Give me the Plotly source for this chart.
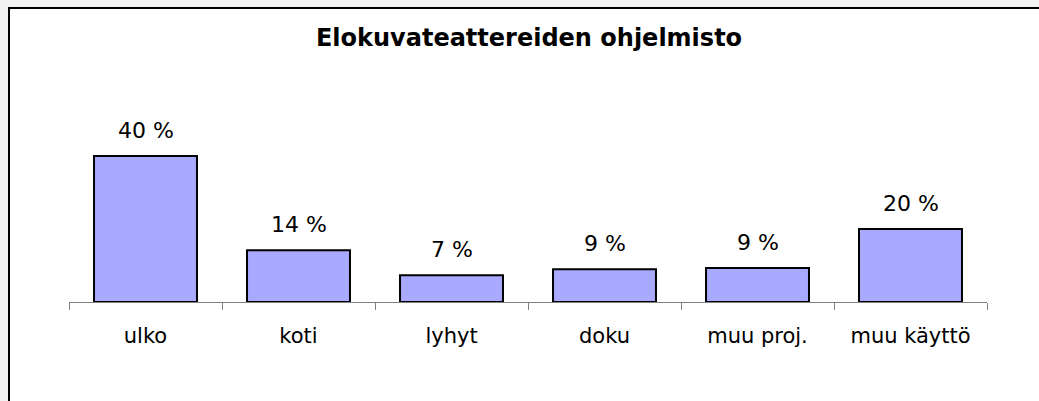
import plotly.graph_objects as go

categories = ["ulko", "koti", "lyhyt", "doku", "muu proj.", "muu käyttö"]
values = [40.0, 14.2, 7.3, 9.0, 9.3, 20.0]
value_labels = ["40 %", "14 %", "7 %", "9 %", "9 %", "20 %"]
title_text = "Elokuvateattereiden ohjelmisto"

W, H = 1039, 401
L, R, T, B = 69, 52, 119, 99
pw, ph = W - L - R, H - T - B
ymax = 50.14

def px_x(p):
    return (p - L) / pw

def px_y(p):
    return (H - B - p) / ph

fig = go.Figure()
fig.add_trace(go.Bar(
    x=categories, y=values,
    marker=dict(color="#a9a9ff", line=dict(color="#000000", width=2)),
    width=0.673, hoverinfo="skip",
))

for c, v, t in zip(categories, values, value_labels):
    fig.add_annotation(x=c, y=v, text=t, showarrow=False, yanchor="bottom",
                       yshift=11, font=dict(family="DejaVu Sans", size=22, color="#000"))

fig.add_shape(type="rect", xref="paper", yref="paper",
              x0=px_x(9), x1=px_x(1100), y0=px_y(450), y1=px_y(8),
              line=dict(color="#000000", width=2), fillcolor="#ffffff", layer="below")

fig.update_layout(
    width=W, height=H,
    margin=dict(l=L, r=R, t=T, b=B, pad=0),
    paper_bgcolor="#f2f2f2", plot_bgcolor="rgba(0,0,0,0)",
    showlegend=False,
    title=dict(text="<b>" + title_text + "</b>", x=px_x(529), xanchor="center", xref="paper",
               y=1 - 38 / H, yanchor="middle",
               font=dict(family="DejaVu Sans", size=24, color="#000")),
    font=dict(family="DejaVu Sans", color="#000"),
    xaxis=dict(type="category", range=[-0.5, 5.5], showline=True, linecolor="#808080",
               linewidth=1, ticks="outside", tickson="boundaries", ticklen=7,
               tickcolor="#808080", tickwidth=1, showgrid=False, zeroline=False,
               tickfont=dict(family="DejaVu Sans", size=21, color="#000"),
               ticklabelstandoff=15, fixedrange=True),
    yaxis=dict(range=[0, ymax], visible=False, showgrid=False, zeroline=False, fixedrange=True),
)

fig.write_html("out.html", config={"displayModeBar": False, "staticPlot": True},
               post_script="document.body.style.margin='0';document.body.style.overflow='hidden';")
